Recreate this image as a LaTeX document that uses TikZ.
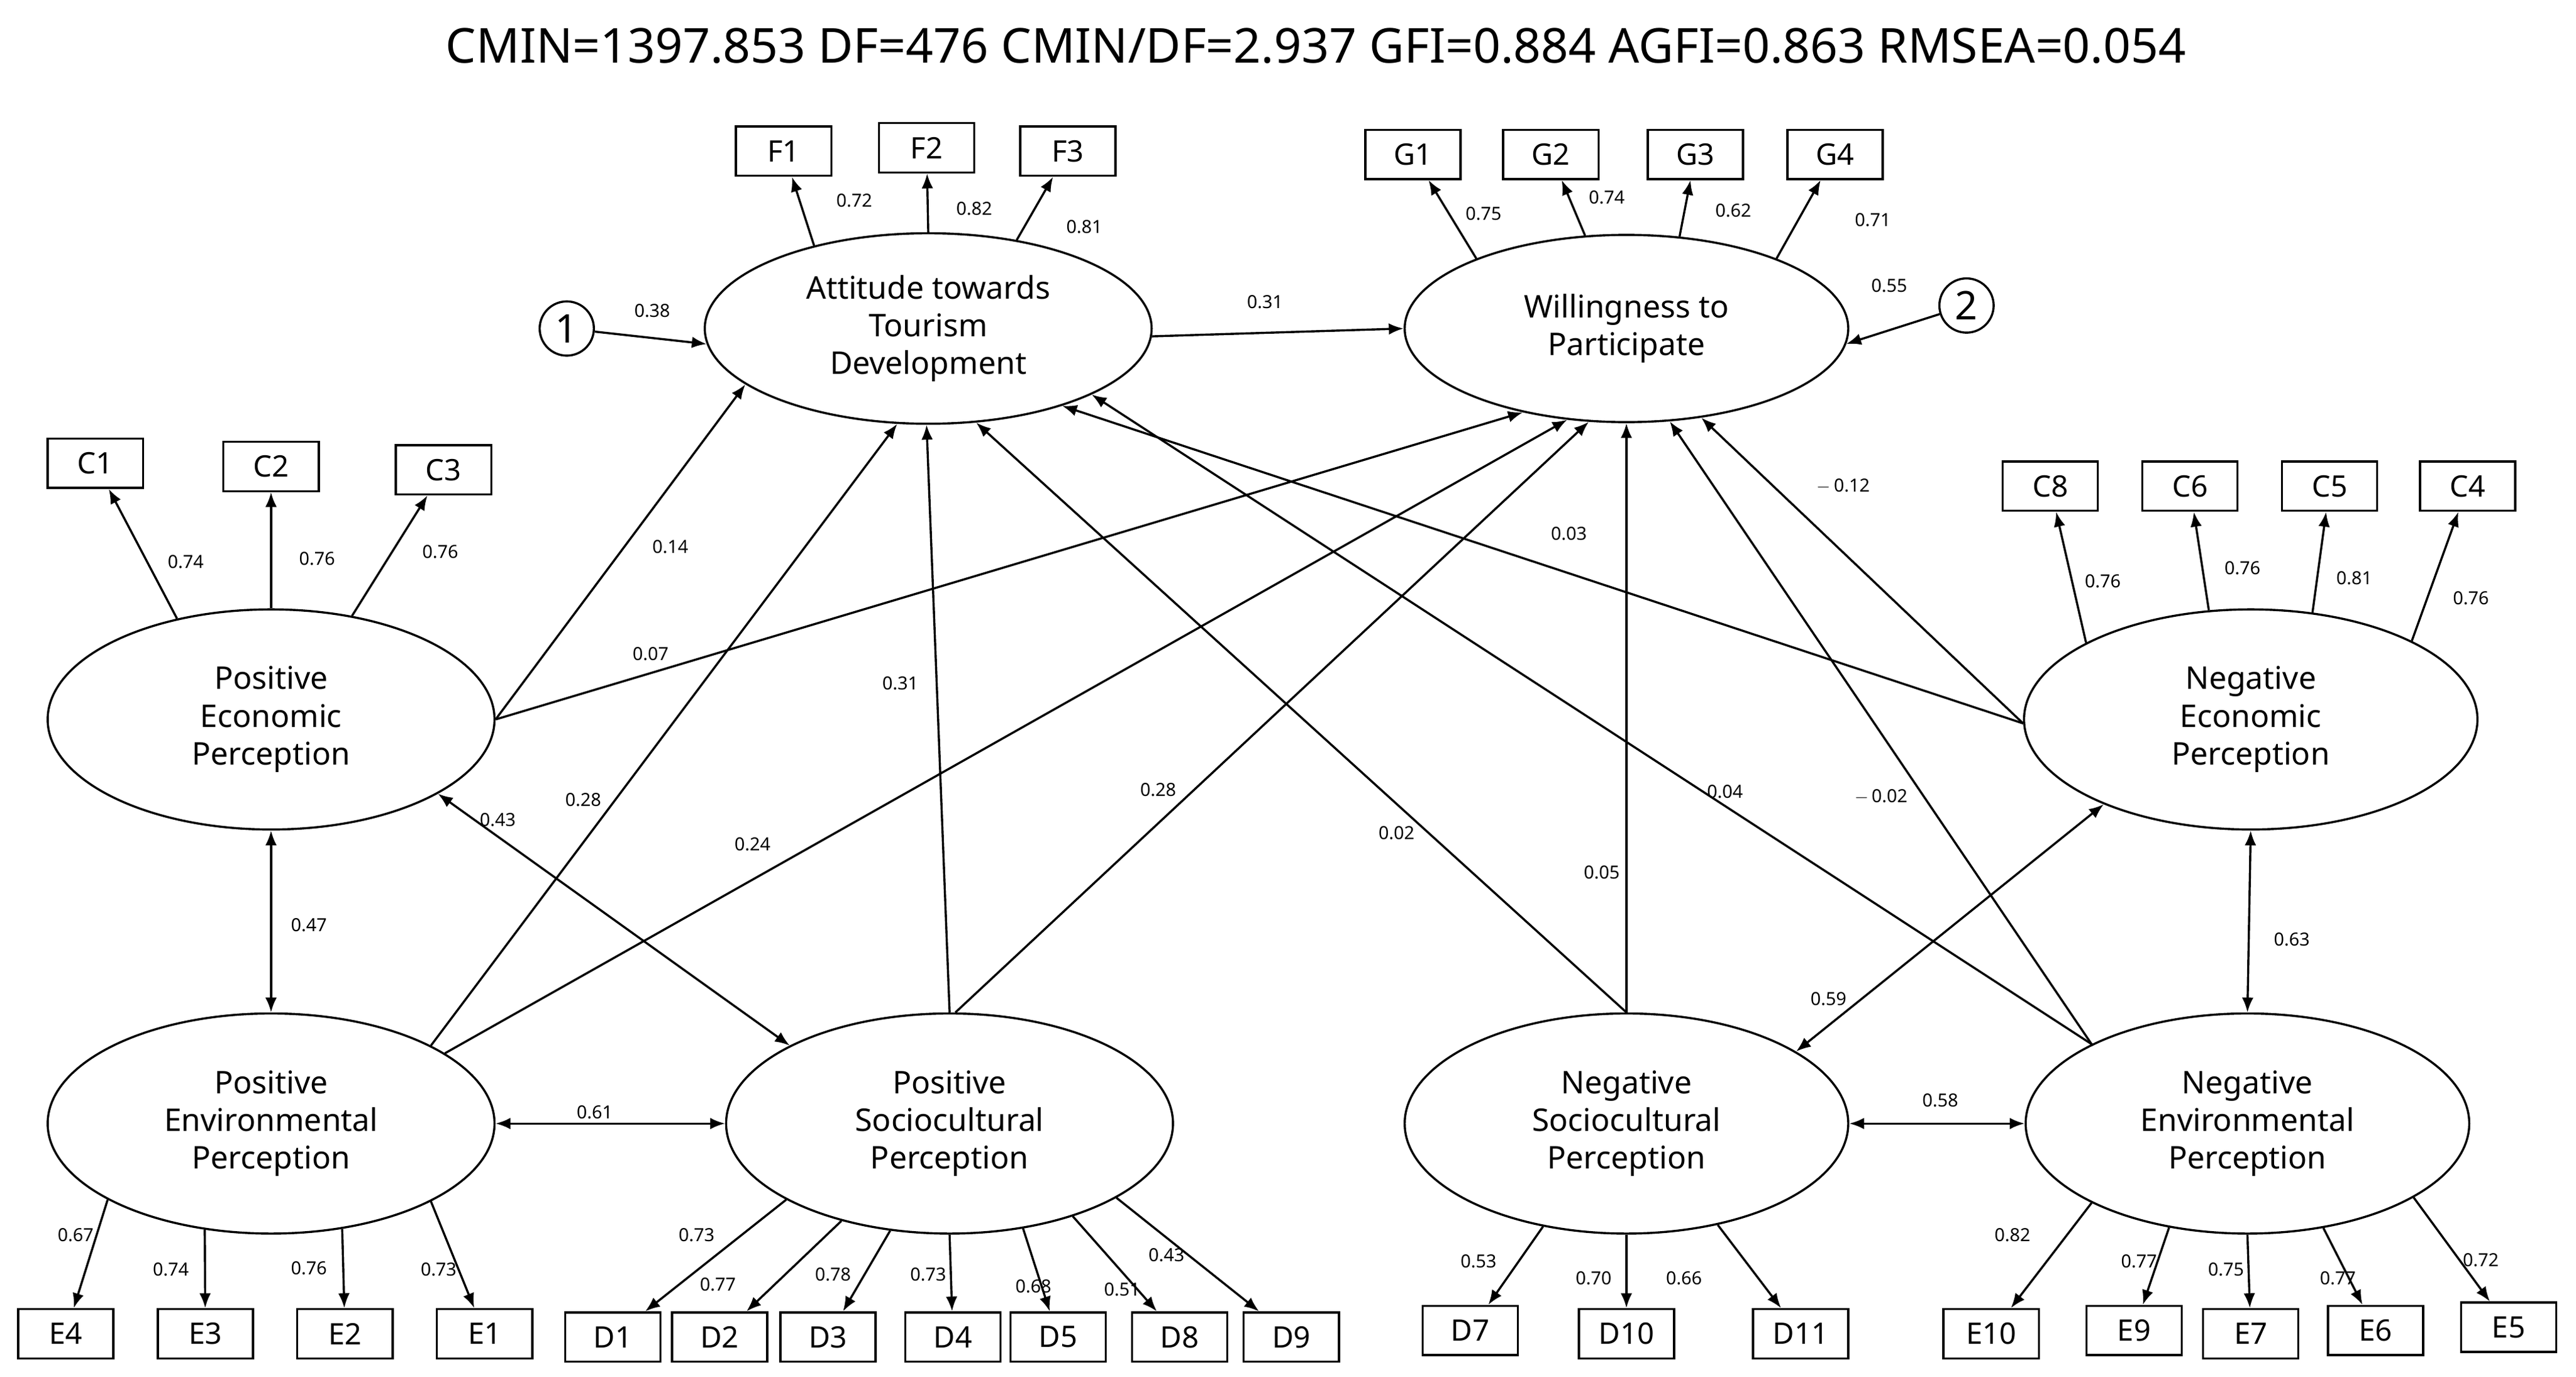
\documentclass[tikz,border=0pt]{standalone}
\usepackage{fontspec}
\setmainfont{Noto Sans}
\usetikzlibrary{shapes.geometric,arrows.meta}
\begin{document}
\begin{tikzpicture}[x=1pt,y=-1pt,line width=1.3pt,
  lat/.style={ellipse,draw,inner sep=0pt,align=center,font=\fontsize{19}{23}\selectfont,minimum width=272,minimum height=134},
  box/.style={draw,minimum width=58,minimum height=30,inner sep=0pt,font=\fontsize{18}{22}\selectfont},
  cn/.style={circle,draw,minimum size=33,inner sep=0pt,font=\fontsize{24}{26}\selectfont},
  ar/.style={-{Latex[length=9pt,width=7pt]}},
  dar/.style={{Latex[length=9pt,width=7pt]}-{Latex[length=9pt,width=7pt]}},
  lb/.style={font=\fontsize{11}{13}\selectfont,inner sep=1pt}]
\useasboundingbox (0,0) rectangle (1568,838);
\node[font=\fontsize{29.3}{32}\selectfont] (title) at (801,28) {CMIN=1397.853 DF=476 CMIN/DF=2.937 GFI=0.884 AGFI=0.863 RMSEA=0.054};
% latent
\node[lat,minimum height=116] (ATD) at (565,200) {Attitude towards\\Tourism\\Development};
\node[lat,minimum height=114,minimum width=270] (WTP) at (990,200) {Willingness to\\Participate};
\node[lat] (PEP) at (165,438) {Positive\\Economic\\Perception};
\node[lat] (PEN) at (165,684) {Positive\\Environmental\\Perception};
\node[lat] (PSP) at (578,684) {Positive\\Sociocultural\\Perception};
\node[lat,minimum width=270] (NSP) at (990,684) {Negative\\Sociocultural\\Perception};
\node[lat,minimum width=270] (NEN) at (1368,684) {Negative\\Environmental\\Perception};
\node[lat,minimum width=276] (NEP) at (1370,438) {Negative\\Economic\\Perception};
\node[cn] (c1) at (345,200) {1};
\node[cn] (c2) at (1197,186) {2};
% boxes
\foreach \n/\x/\y in {F1/477/92,F2/564/90,F3/650/92,G1/860/94,G2/944/94,G3/1032/94,G4/1117/94,
 C1/58/282,C2/165/284,C3/270/286,C8/1248/296,C6/1333/296,C5/1418/296,C4/1502/296,
 E4/40/812,E3/125/812,E2/210/812,E1/295/812,D1/373/814,D2/438/814,D3/504/814,D4/580/814,D5/644/814,D8/718/814,D9/786/814,
 D7/895/810,D10/990/812,D11/1096/812,E10/1212/812,E9/1299/810,E7/1370/812,E6/1446/810,E5/1527/808}
 \node[box] (\n) at (\x,\y) {\n};
% loadings
\foreach \a/\ang/\b/\v/\lx/\ly in {ATD/144/F1/0.72/520/122,ATD/90/F2/0.82/593/127,ATD/45/F3/0.81/660/138,
 WTP/155/G1/0.75/903/130,WTP/114/G2/0.74/978/120,WTP/60/G3/0.62/1055/128,WTP/25/G4/0.71/1140/134,
 PEP/133/C1/0.74/113/342,PEP/90/C2/0.76/193/340,PEP/52/C3/0.76/268/336,
 NEP/155/C8/0.76/1280/354,NEP/111/C6/0.76/1365/346,NEP/60/C5/0.81/1433/352,NEP/26/C4/0.76/1504/364,
 PEN/-155/E4/0.67/46/752,PEN/-122/E3/0.74/104/773,PEN/-56/E2/0.76/188/772,PEN/-26/E1/0.73/267/773,
 PSP/-155/D1/0.73/424/752,PSP/-138/D2/0.77/437/782,PSP/-119/D3/0.78/507/776,PSP/-90/D4/0.73/565/776,PSP/-55/D5/0.68/629/783,PSP/-37/D8/0.51/683/785,PSP/-24/D9/0.43/710/764,
 NSP/-129/D7/0.53/900/768,NSP/-90/D10/0.70/970/778,NSP/-48/D11/0.66/1025/778,
 NEN/-153/E10/0.82/1225/752,NEN/-127/E9/0.77/1302/768,NEN/-90/E7/0.75/1355/773,NEN/-54/E6/0.77/1423/778,NEN/-24/E5/0.72/1510/767}
 {\draw[ar] (\a.\ang) -- (\b);
  \node[lb] at (\lx,\ly) {\v};}
% structural
\draw[ar] (c1) -- (ATD.184); \node[lb] at (397,189) {0.38};
\draw[ar] (ATD.358) -- (WTP.180); \node[lb] at (770,184) {0.31};
\draw[ar] (c2) -- (WTP.356); \node[lb] at (1150,174) {0.55};
\draw[ar] (PEP.0) -- (ATD.197); \node[lb] at (408,333) {0.14};
\draw[ar] (PEP.0) -- (WTP.219); \node[lb] at (396,398) {0.07};
\draw[ar] (PEN.26) -- (ATD.252); \node[lb] at (355,487) {0.28};
\draw[ar] (PEN.22) -- (WTP.237); \node[lb] at (458,514) {0.24};
\draw[ar] (PSP.90) -- (ATD.269); \node[lb] at (548,416) {0.31};
\draw[ar] (PSP.87) -- (WTP.248); \node[lb] at (705,481) {0.28};
\draw[ar] (NSP.90) -- (ATD.297); \node[lb] at (850,507) {0.02};
\draw[ar] (NSP.90) -- (WTP.270); \node[lb] at (975,531) {0.05};
\draw[ar] (NEP.181) -- (ATD.330); \node[lb] at (955,325) {0.03};
\draw[ar] (NEP.181) -- (WTP.310); \node[lb] at (1122,296) {$-$\,0.12};
\draw[ar] (NEN.153) -- (ATD.338); \node[lb] at (1050,482) {0.04};
\draw[ar] (NEN.153) -- (WTP.295); \node[lb] at (1145,485) {$-$\,0.02};
% covariances
\draw[dar] (PEP.270) -- (PEN.90); \node[lb] at (188,563) {0.47};
\draw[dar] (PEP.-24) -- (PSP.154); \node[lb] at (303,499) {0.43};
\draw[dar] (PEN.0) -- (PSP.180); \node[lb] at (362,677) {0.61};
\draw[dar] (NSP.0) -- (NEN.180); \node[lb] at (1181,670) {0.58};
\draw[dar] (NEP.270) -- (NEN.90); \node[lb] at (1395,572) {0.63};
\draw[dar] (NEP.-150) -- (NSP.23); \node[lb] at (1113,608) {0.59};
\end{tikzpicture}
\end{document}
